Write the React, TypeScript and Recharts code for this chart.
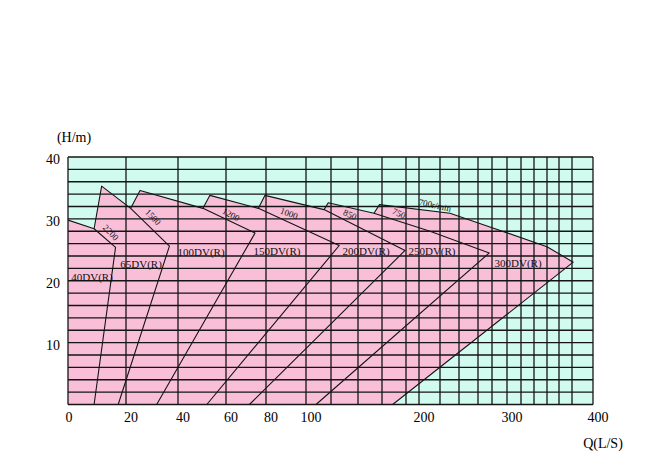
import React from 'react';
import { ScatterChart, Scatter, XAxis, YAxis, CartesianGrid } from 'recharts';

// Calibration of the printed (non-linear) flow axis: Q value of every vertical grid line
// and its position along the axis (axis units).
const GRID_Q = [0, 20, 40, 60, 80, 100, 120, 140, 160, 180, 200, 220, 240, 260, 280, 300, 317, 333, 350, 367, 383, 400];
const GRID_POS = [0, 58, 110, 158, 198, 238, 263, 290, 314, 338, 351, 372, 391, 410, 424, 439, 453, 466, 479, 491, 504, 525];
const X_TICK_LABELS = [0, 20, 40, 60, 80, 100, 200, 300, 400];
const Y_TICKS = [0, 2, 4, 6, 8, 10, 12, 14, 16, 18, 20, 22, 24, 26, 28, 30, 32, 34, 36, 38, 40];
const Y_TICK_LABELS = [10, 20, 30, 40];

// Pump working ranges: outline points [Q (L/s), H (m)]
const DV40 = [[0, 29.8], [9.0, 28.4], [16.4, 25.4], [9.0, 0]];
const DV65 = [[9.0, 28.4], [11.6, 35.3], [21.8, 31.7], [36.7, 25.6], [17.3, 0]];
const DV100 = [[21.8, 31.7], [25.4, 34.6], [50.4, 31.7], [74.5, 27.7], [31.8, 0]];
const DV150 = [[50.4, 31.7], [53.3, 33.8], [76.2, 31.7], [126.1, 25.7], [52.0, 0]];
const DV200 = [[76.2, 31.7], [79.5, 33.8], [114.4, 31.5], [179.2, 24.9], [71.7, 0]];
const DV250 = [[114.4, 31.5], [117.8, 32.6], [153.3, 30.9], [210.5, 28.0], [276.1, 24.5], [108.0, 0]];
const DV300 = [[153.3, 30.9], [157.9, 32.3], [230.5, 30.9], [277, 28.7], [350, 25.5], [384, 23.0], [168.9, 0]];
const MODELS = [DV40, DV65, DV100, DV150, DV200, DV250, DV300];

// Model names: [text, Q, H]
const MODEL_LABELS: [string, number, number][] = [
  ['40DV(R)', 8.3, 20.6],
  ['65DV(R)', 25.8, 22.7],
  ['100DV(R)', 49.6, 24.6],
  ['150DV(R)', 85.5, 24.8],
  ['200DV(R)', 146.7, 24.8],
  ['250DV(R)', 212.4, 24.8],
  ['300DV(R)', 313.4, 22.8],
];
// Speed labels: [text, Q, H, angle]
const SPEED_LABELS: [string, number, number, number][] = [
  ['2200', 14.8, 27.8, 45],
  ['1500', 30.4, 30.3, 45],
  ['1200', 62.5, 30.7, 28],
  ['1000', 91.5, 30.9, 20],
  ['850', 134.1, 30.7, 25],
  ['750', 174.2, 30.9, 25],
  ['700r/min', 215.2, 32.2, 12],
];

const PINK = '#f9bfd9';
const MINT = '#d2fbef';
const INK = '#151515';
const FONT = '"Liberation Serif", "Times New Roman", serif';

function qx(q: number): number {
  for (let i = 1; i < GRID_Q.length; i++) {
    if (q <= GRID_Q[i]) {
      const t = (q - GRID_Q[i - 1]) / (GRID_Q[i] - GRID_Q[i - 1]);
      return GRID_POS[i - 1] + t * (GRID_POS[i] - GRID_POS[i - 1]);
    }
  }
  return GRID_POS[GRID_POS.length - 1];
}

const toXY = (pts: number[][]) => pts.map(([q, h]) => ({ x: qx(q), y: h }));

const pathOf = (points: any[], close: boolean) =>
  points.map((p: any, i: number) => `${i ? 'L' : 'M'}${p.x},${p.y}`).join(' ') + (close ? ' Z' : '');

const Empty = () => <g />;
const FillLine = (p: any) => <path d={pathOf(p.points, true)} fill={PINK} stroke="none" />;
const OutlineLine = (p: any) => (
  <path d={pathOf(p.points, false)} fill="none" stroke={INK} strokeWidth={1.1} strokeLinejoin="round" />
);

const modelLabelData = MODEL_LABELS.map(([text, q, h]) => ({ x: qx(q), y: h, text }));
const speedLabelData = SPEED_LABELS.map(([text, q, h, angle]) => ({ x: qx(q), y: h, text, angle }));

const ModelLabel = (p: any) => (
  <text x={p.cx} y={p.cy} dy="0.35em" textAnchor="middle" fontFamily={FONT} fontSize={11} fill="#111">
    {p.payload.text}
  </text>
);
const SpeedLabel = (p: any) => (
  <text
    x={p.cx}
    y={p.cy}
    dy="0.35em"
    textAnchor="middle"
    fontFamily={FONT}
    fontSize={9}
    fill="#111"
    transform={`rotate(${p.payload.angle} ${p.cx} ${p.cy})`}
  >
    {p.payload.text}
  </text>
);

const XTick = (props: any) => {
  const { x, y, payload } = props;
  const i = GRID_POS.indexOf(payload.value);
  const q = GRID_Q[i];
  if (!X_TICK_LABELS.includes(q)) return <g />;
  return (
    <text x={x + (q === 0 ? 1 : 5)} y={y + 17.5} textAnchor="middle" fontFamily={FONT} fontSize={14} fill="#000">
      {q}
    </text>
  );
};

const YTick = (props: any) => {
  const { x, y, payload } = props;
  if (!Y_TICK_LABELS.includes(payload.value)) return <g />;
  return (
    <text x={x - 8} y={y + 7} textAnchor="end" fontFamily={FONT} fontSize={14} fill="#000">
      {payload.value}
    </text>
  );
};

const YTitle = (p: any) => {
  const vb = p.viewBox || {};
  return (
    <text x={(vb.x ?? 8) + (vb.width ?? 60) + 6} y={(vb.y ?? 157) - 15} textAnchor="middle" fontFamily={FONT} fontSize={14} fill="#000">
      (H/m)
    </text>
  );
};
const XTitle = (p: any) => {
  const vb = p.viewBox || {};
  return (
    <text x={(vb.x ?? 68) + (vb.width ?? 525) + 10} y={(vb.y ?? 404.5) + 43.5} textAnchor="middle" fontFamily={FONT} fontSize={14} fill="#000">
      Q(L/S)
    </text>
  );
};

export default function App() {
  return (
    <div style={{ position: 'absolute', left: 0, top: 0, width: 650, height: 466, background: '#fff' }}>
      <ScatterChart width={650} height={466} margin={{ top: 157, right: 57, bottom: 31.5, left: 8 }}>
        <CartesianGrid horizontal={false} vertical={false} fill={MINT} stroke="none" zIndex={-100} />
        <XAxis
          type="number"
          dataKey="x"
          domain={[0, 525]}
          ticks={GRID_POS}
          interval={0}
          allowDataOverflow
          axisLine={false}
          tickLine={false}
          tickSize={0}
          tickMargin={0}
          height={30}
          tick={<XTick />}
          label={{ content: XTitle } as any}
        />
        <YAxis
          type="number"
          dataKey="y"
          domain={[0, 40]}
          ticks={Y_TICKS}
          interval={0}
          allowDataOverflow
          axisLine={false}
          tickLine={false}
          tickSize={0}
          tickMargin={0}
          width={60}
          tick={<YTick />}
          label={{ content: YTitle } as any}
        />
        {MODELS.map((m, i) => (
          <Scatter
            key={'fill' + i}
            data={toXY([...m, [0, 0]])}
            shape={Empty}
            line={FillLine}
            legendType="none"
            isAnimationActive={false}
            zIndex={100}
          />
        ))}
        <CartesianGrid stroke={INK} strokeWidth={1.3} fill="none" zIndex={300} />
        {MODELS.map((m, i) => (
          <Scatter
            key={'line' + i}
            data={toXY(m)}
            shape={Empty}
            line={OutlineLine}
            legendType="none"
            isAnimationActive={false}
            zIndex={600}
          />
        ))}
        <Scatter data={modelLabelData} shape={ModelLabel} legendType="none" isAnimationActive={false} zIndex={700} />
        <Scatter data={speedLabelData} shape={SpeedLabel} legendType="none" isAnimationActive={false} zIndex={700} />
      </ScatterChart>
    </div>
  );
}
